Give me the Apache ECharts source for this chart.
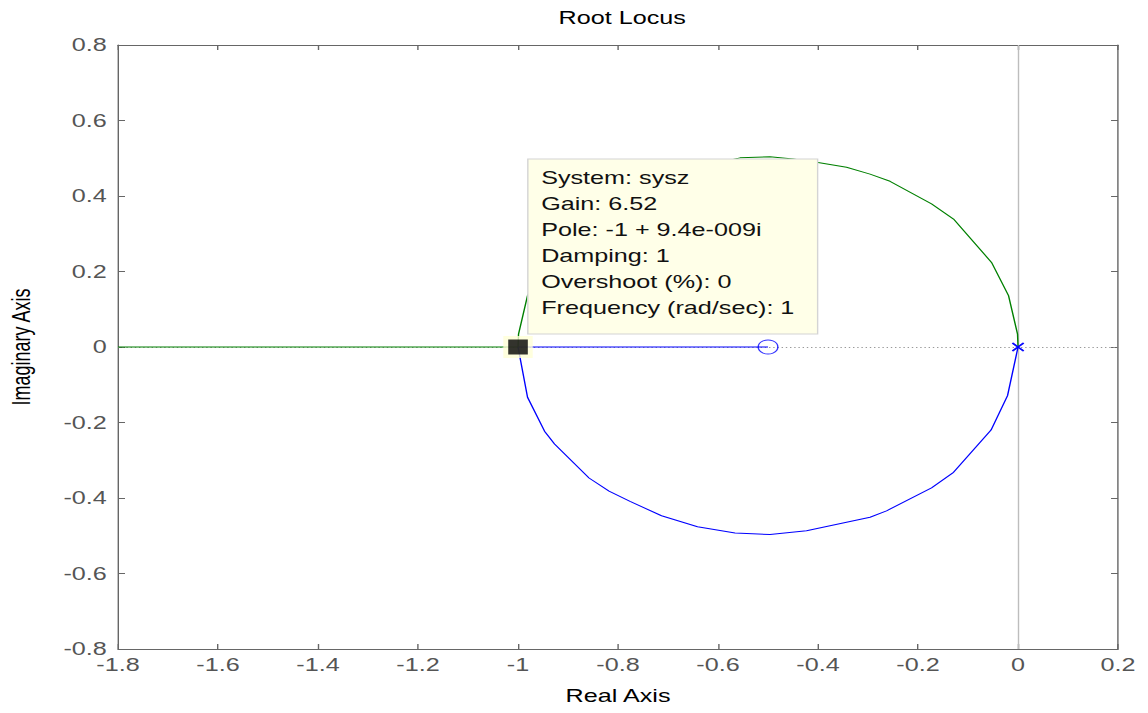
<!DOCTYPE html>
<html><head><meta charset="utf-8">
<script src="https://cdn.jsdelivr.net/npm/echarts@6/dist/echarts.min.js"></script>
<style>
html,body{margin:0;padding:0;background:#fff;overflow:hidden;}
#wrap{width:1148px;height:713px;overflow:hidden;}
#chart{width:820px;height:713px;transform:scaleX(1.4);transform-origin:0 0;}
</style></head><body><div id="wrap"><div id="chart"></div></div>
<script>
// ---- data ----
const chartTitle = 'Root Locus';
const xAxisName = 'Real Axis';
const yAxisName = 'Imaginary Axis';
const xTickLabels = ['-1.8','-1.6','-1.4','-1.2','-1','-0.8','-0.6','-0.4','-0.2','0','0.2'];
const yTickLabels = ['-0.8','-0.6','-0.4','-0.2','0','0.2','0.4','0.6','0.8'];

// green branch along the negative real axis
const greenRealRe = [-1.8, -1];
const greenRealIm = [0, 0];
// green branch, upper arc (from -1 round to 0)
const greenArcRe = [-1, -0.999, -0.981, -0.947, -0.927, -0.858, -0.818, -0.776, -0.713, -0.641, -0.556, -0.496, -0.45, -0.4, -0.343, -0.296, -0.256, -0.173, -0.129, -0.053, -0.019, -0.001, 0];
const greenArcIm = [0, 0.034, 0.136, 0.223, 0.257, 0.347, 0.382, 0.409, 0.447, 0.476, 0.501, 0.504, 0.498, 0.489, 0.476, 0.458, 0.439, 0.379, 0.339, 0.224, 0.136, 0.034, 0];
// blue branch along the real axis (-1 to zero at -0.5)
const blueRealRe = [-1, -0.5];
const blueRealIm = [0, 0];
// blue branch, lower arc
const blueArcRe = [-1, -0.981, -0.947, -0.927, -0.858, -0.818, -0.776, -0.713, -0.641, -0.566, -0.496, -0.423, -0.296, -0.263, -0.173, -0.129, -0.054, -0.021, 0];
const blueArcIm = [0, -0.133, -0.223, -0.257, -0.347, -0.382, -0.409, -0.447, -0.476, -0.493, -0.497, -0.487, -0.451, -0.434, -0.373, -0.332, -0.220, -0.129, 0];

const zeroRe = [-0.5];
const zeroIm = [0];
const poleRe = [0, 0];
const poleIm = [0, 0];
const selectedRe = [-1];
const selectedIm = [0];

const tipLines = ['System: sysz', 'Gain: 6.52', 'Pole: -1 + 9.4e-009i', 'Damping: 1', 'Overshoot (%): 0', 'Frequency (rad/sec): 1'];

// ---- build ----
const zip = (a, b) => a.map((v, i) => [v, b[i]]);
const FONT = '"Liberation Sans", Arial, sans-serif';
const xMin = parseFloat(xTickLabels[0]), xMax = parseFloat(xTickLabels[xTickLabels.length - 1]);
const yMin = parseFloat(yTickLabels[0]), yMax = parseFloat(yTickLabels[yTickLabels.length - 1]);
const xStep = 0.2, yStep = 0.2;
const fmtX = v => { const i = Math.round((v - xMin) / xStep); return xTickLabels[i] ?? ''; };
const fmtY = v => { const i = Math.round((v - yMin) / yStep); return yTickLabels[i] ?? ''; };

const axisColor = '#666';
const labelColor = '#555';
const gridL = 84.3, gridR = 21.4, gridT = 45, gridB = 64;

const chart = echarts.init(document.getElementById('chart'), null, {renderer: 'svg'});
const lineBase = {type: 'line', showSymbol: false, symbol: 'none', animation: false, silent: true};

chart.setOption({
  backgroundColor: '#fff',
  animation: false,
  title: {
    text: chartTitle, left: (gridL + 820 - gridR) / 2 - 2, top: 4, textAlign: 'center',
    textStyle: {fontFamily: FONT, fontSize: 18, fontWeight: 'normal', color: '#000'}
  },
  grid: {left: gridL, right: gridR, top: gridT, bottom: gridB, containLabel: false, outerBoundsMode: 'none'},
  xAxis: [{
    type: 'value', min: xMin, max: xMax, interval: xStep, position: 'bottom',
    name: xAxisName, nameLocation: 'middle', nameGap: 38,
    nameTextStyle: {fontFamily: FONT, fontSize: 18, color: '#000'},
    axisLine: {show: true, onZero: false, lineStyle: {color: axisColor, width: 1}},
    axisTick: {show: true, inside: true, length: 5, lineStyle: {color: axisColor}},
    axisLabel: {fontFamily: FONT, fontSize: 18, color: labelColor, margin: 7, formatter: fmtX, showMinLabel: true, showMaxLabel: true},
    splitLine: {show: false}
  }, {
    type: 'value', min: xMin, max: xMax, interval: xStep, position: 'top',
    axisLine: {show: true, onZero: false, lineStyle: {color: axisColor, width: 1}},
    axisTick: {show: true, inside: true, length: 5, lineStyle: {color: axisColor}},
    axisLabel: {show: false}, splitLine: {show: false}
  }],
  yAxis: [{
    type: 'value', min: yMin, max: yMax, interval: yStep, position: 'left',
    name: yAxisName, nameLocation: 'middle', nameGap: 60, nameRotate: 90,
    nameTextStyle: {fontFamily: FONT, fontSize: 18, color: '#000'},
    axisLine: {show: true, onZero: false, lineStyle: {color: axisColor, width: 1}},
    axisTick: {show: true, inside: true, length: 5, lineStyle: {color: axisColor}},
    axisLabel: {fontFamily: FONT, fontSize: 18, color: labelColor, margin: 8, formatter: fmtY, showMinLabel: true, showMaxLabel: true},
    splitLine: {show: false}
  }, {
    type: 'value', min: yMin, max: yMax, interval: yStep, position: 'right',
    axisLine: {show: true, onZero: false, lineStyle: {color: axisColor, width: 1}},
    axisTick: {show: true, inside: true, length: 5, lineStyle: {color: axisColor}},
    axisLabel: {show: false}, splitLine: {show: false}
  }],
  series: [
    Object.assign({}, lineBase, {
      name: 'green-real', data: zip(greenRealRe, greenRealIm), z: 3,
      lineStyle: {color: '#008000', width: 1},
      markLine: {
        silent: true, symbol: 'none', label: {show: false}, animation: false, z: 1,
        data: [
          {xAxis: 0, lineStyle: {color: '#bdbdbd', width: 1, type: 'solid'}},
          {yAxis: 0, lineStyle: {color: '#9a9a9a', width: 1, type: [1, 2]}}
        ]
      }
    }),
    Object.assign({}, lineBase, {name: 'green-arc', data: zip(greenArcRe, greenArcIm), z: 3, lineStyle: {color: '#008000', width: 1}}),
    Object.assign({}, lineBase, {name: 'blue-real', data: zip(blueRealRe, blueRealIm), z: 3, lineStyle: {color: '#0000ff', width: 1}}),
    Object.assign({}, lineBase, {name: 'blue-arc', data: zip(blueArcRe, blueArcIm), z: 3, lineStyle: {color: '#0000ff', width: 1}}),
    {
      type: 'scatter', name: 'zero', data: zip(zeroRe, zeroIm), symbol: 'circle', symbolSize: 14, z: 4, silent: true,
      itemStyle: {color: 'rgba(0,0,0,0)', borderColor: '#0000ff', borderWidth: 1}
    },
    {
      type: 'scatter', name: 'pole', data: zip(poleRe, poleIm), symbol: 'path://M0,0L10,10M10,0L0,10', symbolSize: [8, 8], z: 4, silent: true,
      itemStyle: {color: 'none', borderColor: '#0000ff', borderWidth: 1.3}
    },
    {
      type: 'scatter', name: 'selected-halo', data: zip(selectedRe, selectedIm), symbol: 'rect', symbolSize: [21, 22], z: 6, silent: true,
      itemStyle: {color: '#FFFFD6', borderWidth: 0}, emphasis: {disabled: true}
    },
    {
      type: 'scatter', name: 'selected', data: zip(selectedRe, selectedIm), symbol: 'rect', symbolSize: [14, 15], z: 7, silent: true,
      itemStyle: {color: '#000', borderWidth: 0}, emphasis: {disabled: true}
    }
  ]
});

// data tip box anchored to the selected pole
const p = chart.convertToPixel({xAxisIndex: 0, yAxisIndex: 0}, [selectedRe[0], selectedIm[0]]);
const boxL = p[0] + 7, boxT = p[1] - 188, boxW = 207, boxH = 175;
chart.setOption({
  graphic: [
    {type: 'rect', z: 100, silent: true, shape: {x: boxL, y: boxT, width: boxW, height: boxH},
     style: {fill: '#FFFFE8', stroke: '#d4d4d4', lineWidth: 1}},
    {type: 'text', z: 101, silent: true, x: boxL + 9.5, y: boxT + 6,
     style: {text: tipLines.join('\n'), fontFamily: FONT, fontSize: 18, lineHeight: 26, fill: '#111', align: 'left', verticalAlign: 'top'}}
  ]
});
</script>
</body></html>
